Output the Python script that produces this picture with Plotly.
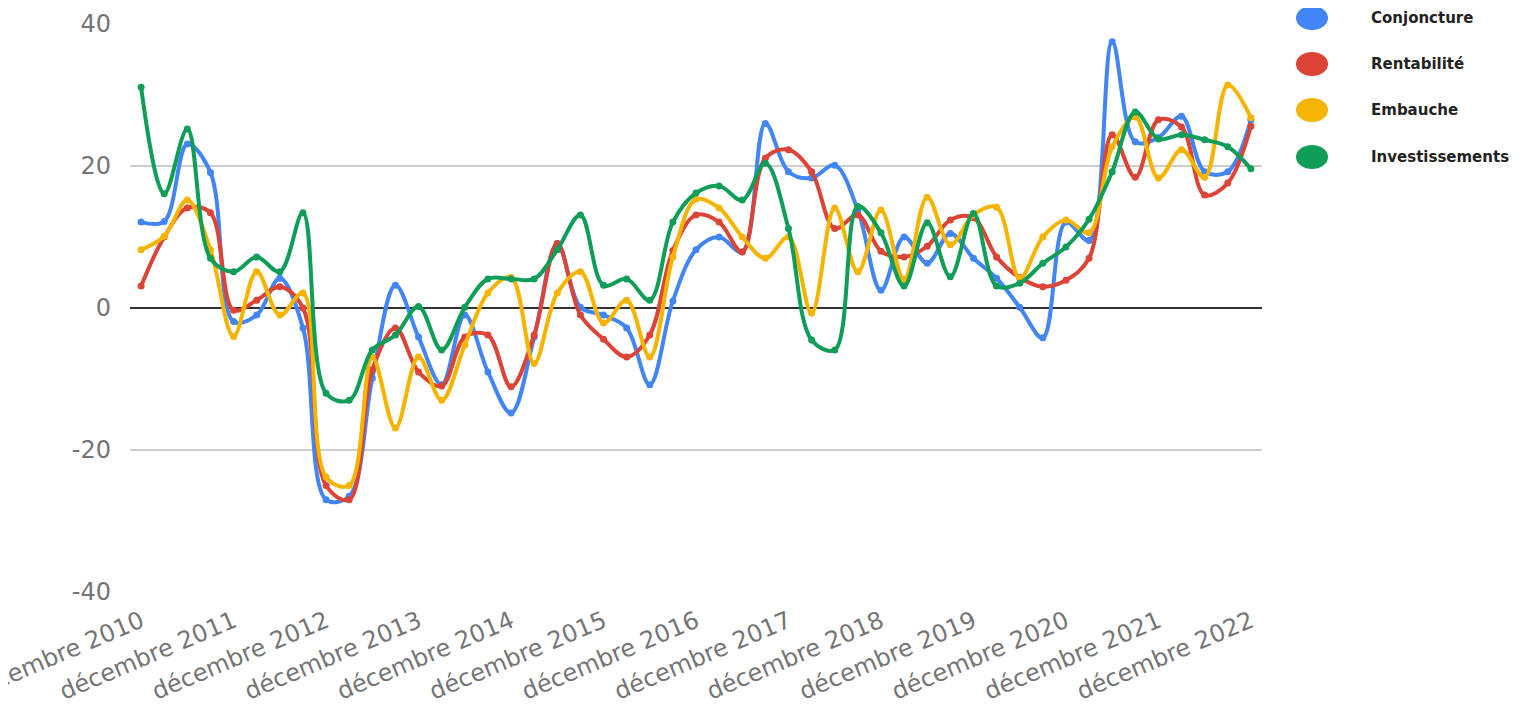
import plotly.graph_objects as go

# ---- data (quarterly, Dec 2010 .. Dec 2022) ----
quarters = list(range(49))
tick_pos = [0, 4, 8, 12, 16, 20, 24, 28, 32, 36, 40, 44, 48]
tick_labels = ["décembre 2010", "décembre 2011", "décembre 2012", "décembre 2013",
               "décembre 2014", "décembre 2015", "décembre 2016", "décembre 2017",
               "décembre 2018", "décembre 2019", "décembre 2020", "décembre 2021",
               "décembre 2022"]
y_ticks = [-40, -20, 0, 20, 40]
y_tick_labels = ["-40", "-20", "0", "20", "40"]

conjoncture = [12.1, 12.2, 23.1, 19.1, -1.9, -1.0, 4.2, -2.8, -27.0, -26.5,
               -9.9, 3.2, -4.1, -10.8, -1.0, -9.0, -14.8, -4.1, 9.1, 0.1,
               -1.0, -2.8, -10.8, 1.0, 8.2, 10.0, 7.9, 26.0, 19.2, 18.3,
               20.1, 13.8, 2.5, 10.0, 6.3, 10.5, 7.0, 4.2, 0.1, -4.2,
               12.1, 9.5, 37.5, 23.4, 24.0, 27.0, 19.2, 19.2, 26.5]
rentabilite = [3.1, 10.0, 14.1, 13.4, -0.3, 1.1, 3.0, 0.0, -25.0, -27.0,
               -8.7, -2.8, -9.0, -11.0, -4.1, -3.8, -11.1, -3.8, 9.1, -1.0,
               -4.4, -6.9, -3.8, 8.1, 13.1, 12.1, 7.9, 21.1, 22.3, 19.2,
               11.2, 13.1, 8.0, 7.2, 8.7, 12.4, 12.7, 7.2, 4.3, 3.0,
               3.9, 7.0, 24.4, 18.4, 26.5, 25.5, 15.9, 17.6, 25.6]
embauche = [8.2, 10.1, 15.2, 8.2, -4.0, 5.1, -1.0, 2.1, -23.8, -25.0,
            -6.9, -16.9, -6.9, -13.0, -5.2, 2.1, 4.3, -7.8, 2.1, 5.1,
            -2.1, 1.1, -6.9, 7.2, 15.3, 14.1, 10.0, 7.0, 10.0, -0.7,
            14.1, 5.1, 13.8, 4.0, 15.6, 8.9, 13.1, 14.2, 4.2, 10.0,
            12.4, 10.6, 22.7, 26.9, 18.3, 22.3, 18.4, 31.4, 26.8]
investissements = [31.1, 16.1, 25.2, 7.0, 5.1, 7.2, 5.1, 13.4, -12.0, -13.0,
                   -5.9, -3.8, 0.2, -5.9, 0.1, 4.1, 4.1, 4.1, 8.2, 13.1,
                   3.2, 4.1, 1.1, 12.1, 16.2, 17.2, 15.2, 20.4, 11.2, -4.5,
                   -5.9, 14.3, 10.6, 3.1, 12.0, 4.4, 13.3, 3.1, 3.5, 6.3,
                   8.6, 12.5, 19.2, 27.6, 23.8, 24.4, 23.7, 22.7, 19.6]

series_names = ["Conjoncture", "Rentabilité", "Embauche", "Investissements"]
series_values = [conjoncture, rentabilite, embauche, investissements]
colors = ["#4285F4", "#DB4437", "#F4B400", "#0F9D58"]

# the page body has an 8px default margin, so the figure is laid out 8px smaller
OFF = 8
W, H = 1525 - OFF, 716 - OFF
L, R, T, B = 130 - OFF, 1262 - OFF, 24 - OFF, 592 - OFF

fig = go.Figure()
for name, vals, col in zip(series_names, series_values, colors):
    fig.add_trace(go.Scatter(
        x=quarters, y=vals, name=name, mode="lines+markers",
        line=dict(color=col, width=4, shape="spline", smoothing=1.0),
        marker=dict(color=col, size=7),
        showlegend=False,
        hoverinfo="skip",
    ))

# custom legend (large ellipses + bold labels); page pixel -> paper coords
def px2paper_x(px):
    return (px - OFF - L) / (R - L)

def px2paper_y(py):
    return (B - (py - OFF)) / (B - T)

legend_y = [18, 64, 110, 157]
shapes = []
annotations = []
for name, col, cy in zip(series_names, colors, legend_y):
    shapes.append(dict(type="circle", xref="paper", yref="paper",
                       x0=px2paper_x(1296), x1=px2paper_x(1328),
                       y0=px2paper_y(cy + 12), y1=px2paper_y(cy - 12),
                       fillcolor=col, line=dict(width=0)))
    annotations.append(dict(xref="paper", yref="paper", x=px2paper_x(1369),
                            y=px2paper_y(cy), text="<b>%s</b>" % name,
                            showarrow=False, xanchor="left", yanchor="middle",
                            font=dict(family="DejaVu Sans", size=15, color="#222222")))

fig.update_layout(
    width=W, height=H,
    margin=dict(l=L, r=W - R, t=T, b=H - B, pad=0, autoexpand=False),
    paper_bgcolor="white", plot_bgcolor="white",
    shapes=shapes, annotations=annotations,
    showlegend=False,
    font=dict(family="DejaVu Sans", color="#757575"),
)
fig.update_xaxes(
    range=[-0.48, 48.48], tickmode="array", tickvals=tick_pos, ticktext=tick_labels,
    tickangle=-23, showgrid=False, zeroline=False, showline=False,
    tickfont=dict(family="DejaVu Sans", size=24, color="#757575"),
    ticks="", ticklabelstandoff=10, ticklabeloverflow="allow", automargin=False,
)
fig.update_yaxes(
    range=[-40, 40], tickmode="array", tickvals=y_ticks, ticktext=y_tick_labels,
    showgrid=True, gridcolor="#cccccc", gridwidth=1.5,
    zeroline=True, zerolinecolor="#333333", zerolinewidth=1.5,
    showline=False, ticks="",
    tickfont=dict(family="DejaVu Sans", size=24, color="#757575"),
    ticklabelstandoff=18, automargin=False,
)

fig.write_html("out.html")
